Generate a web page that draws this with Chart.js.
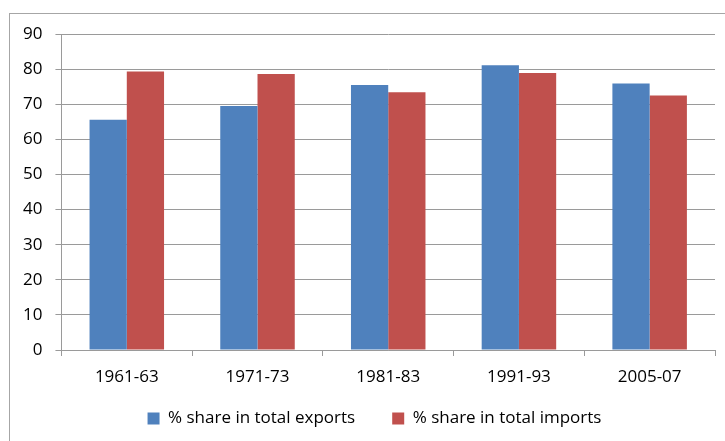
<!DOCTYPE html>
<html>
<head>
<meta charset="utf-8">
<script src="https://cdn.jsdelivr.net/npm/chart.js@4/dist/chart.umd.min.js"></script>
<style>
  html, body { margin: 0; padding: 0; background: #fff; }
  #wrap { width: 725px; height: 441px; }
</style>
</head>
<body>
<div id="wrap"><canvas id="chart" width="725" height="441"></canvas></div>
<script>
const periods = ["1961-63", "1971-73", "1981-83", "1991-93", "2005-07"];
const exportsShare = [65.6, 69.5, 75.5, 81.1, 75.9];
const importsShare = [79.3, 78.6, 73.4, 78.9, 72.5];
const yTicks = [0, 10, 20, 30, 40, 50, 60, 70, 80, 90];

const FONT = "'Open Sans', 'Noto Sans', sans-serif";
const GRID = "#9a9a9a";

// outer frame around the whole chart
const frame = {
    id: "frame",
    beforeDraw(chart) {
        const c = chart.ctx;
        c.save();
        c.strokeStyle = "#a6a6a6";
        c.lineWidth = 1;
        c.strokeRect(9.5, 13.5, 740, 440);
        c.restore();
    }
};

// legend items sit far apart (padding 37), but the legend box stays short
// and is nudged up/right once the layout is done
const legendBox = {
    id: "legendBox",
    beforeLayout(chart) {
        const legend = chart.legend;
        if (!legend || legend._fitPatched) return;
        const fit = legend.fit.bind(legend);
        legend.fit = function () {
            fit();
            this.height = 51;
        };
        legend._fitPatched = true;
    },
    afterLayout(chart) {
        const legend = chart.legend;
        if (!legend) return;
        legend.top -= 17;
        legend.left += 12;
        legend.right += 12;
    }
};

new Chart(document.getElementById("chart"), {
    type: "bar",
    data: {
        labels: periods,
        datasets: [
            {
                label: "% share in total exports",
                data: exportsShare,
                backgroundColor: "#4F81BD",
                categoryPercentage: 0.57,
                barPercentage: 1
            },
            {
                label: "% share in total imports",
                data: importsShare,
                backgroundColor: "#C0504D",
                categoryPercentage: 0.57,
                barPercentage: 1
            }
        ]
    },
    options: {
        responsive: false,
        animation: false,
        layout: { padding: { left: 10, top: 34, right: 10, bottom: 0 } },
        plugins: {
            tooltip: { enabled: false },
            legend: {
                position: "bottom",
                labels: {
                    boxWidth: 12,
                    boxHeight: 12,
                    padding: 37,
                    color: "#000",
                    font: { family: FONT, size: 17 }
                }
            }
        },
        scales: {
            x: {
                grid: {
                    offset: true,
                    drawOnChartArea: false,
                    tickLength: 6,
                    color: GRID
                },
                border: { color: GRID },
                ticks: {
                    color: "#000",
                    padding: 11,
                    font: { family: FONT, size: 17 }
                },
                afterFit(axis) {
                    axis.height = 40;
                }
            },
            y: {
                min: 0,
                max: 90,
                afterBuildTicks(axis) {
                    axis.ticks = yTicks.map(v => ({ value: v }));
                },
                grid: { color: GRID, tickLength: 6 },
                border: { color: GRID },
                ticks: {
                    color: "#000",
                    padding: 13,
                    font: { family: FONT, size: 17 }
                }
            }
        }
    },
    plugins: [frame, legendBox]
});
</script>
</body>
</html>
